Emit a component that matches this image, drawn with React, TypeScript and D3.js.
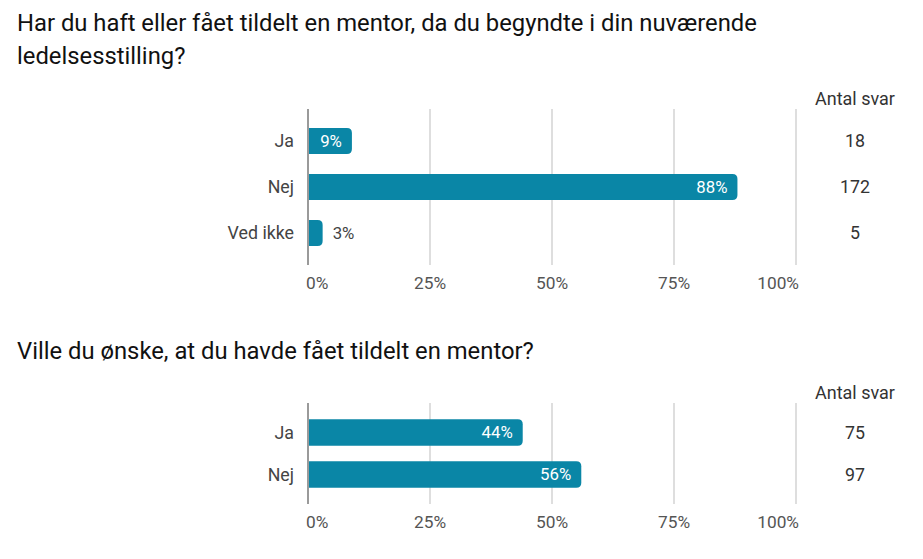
import { useEffect, useRef } from "react";
import * as d3 from "d3";

// Question 1
const q1Title = [
  "Har du haft eller fået tildelt en mentor, da du begyndte i din nuværende",
  "ledelsesstilling?",
];
const q1Categories = ["Ja", "Nej", "Ved ikke"];
const q1Percent = [9, 88, 3];
const q1Counts = [18, 172, 5];

// Question 2
const q2Title = ["Ville du ønske, at du havde fået tildelt en mentor?"];
const q2Categories = ["Ja", "Nej"];
const q2Percent = [44, 56];
const q2Counts = [75, 97];

const ticks = [0, 25, 50, 75, 100];
const countHeader = "Antal svar";

const BAR = "#0a86a6";
const FONT = "Roboto, 'Noto Sans', sans-serif";

interface Block {
  title: string[];
  titleY: number;
  categories: string[];
  percent: number[];
  counts: number[];
  top: number;
  bottom: number;
  padInner: number;
  padOuter: number;
}

function barPath(x0: number, x1: number, y: number, h: number, r: number) {
  const rr = Math.min(r, (x1 - x0) / 2, h / 2);
  return `M${x0},${y}H${x1 - rr}Q${x1},${y} ${x1},${y + rr}V${y + h - rr}Q${x1},${y + h} ${x1 - rr},${y + h}H${x0}Z`;
}

export default function App() {
  const svgRef = useRef<SVGSVGElement>(null);

  useEffect(() => {
    if (!svgRef.current) return;
    const svg = d3.select(svgRef.current);
    svg.selectAll("*").remove();

    const x = d3.scaleLinear().domain([0, 100]).range([308, 796]);
    const countX = 855;

    const blocks: Block[] = [
      {
        title: q1Title, titleY: 31, categories: q1Categories, percent: q1Percent, counts: q1Counts,
        top: 109, bottom: 265, padInner: 0.435, padOuter: 0.413,
      },
      {
        title: q2Title, titleY: 359, categories: q2Categories, percent: q2Percent, counts: q2Counts,
        top: 403, bottom: 504, padInner: 0.37, padOuter: 0.388,
      },
    ];

    blocks.forEach((b) => {
      const g = svg.append("g");

      // title
      b.title.forEach((line, i) => {
        g.append("text")
          .attr("x", 17)
          .attr("y", b.titleY + i * 33)
          .attr("font-size", 23.8)
          .attr("fill", "#111")
          .text(line);
      });

      // count header
      g.append("text")
        .attr("x", countX)
        .attr("y", b.top - 4)
        .attr("text-anchor", "middle")
        .attr("font-size", 18)
        .attr("fill", "#333")
        .text(countHeader);

      const y = d3
        .scaleBand<string>()
        .domain(b.categories)
        .range([b.top, b.bottom])
        .paddingOuter(b.padOuter)
        .paddingInner(b.padInner);
      const bh = y.bandwidth();

      // gridlines
      ticks.forEach((t) => {
        g.append("line")
          .attr("x1", x(t))
          .attr("x2", x(t))
          .attr("y1", b.top)
          .attr("y2", b.bottom)
          .attr("stroke", t === 0 ? "#9a9a9a" : "#c8c8c8")
          .attr("stroke-width", t === 0 ? 2 : 1.2);
      });

      // tick labels
      ticks.forEach((t, i) => {
        const last = i === ticks.length - 1;
        g.append("text")
          .attr("x", i === 0 ? x(t) - 2 : last ? x(t) + 3 : x(t))
          .attr("y", b.bottom + 24)
          .attr("text-anchor", i === 0 ? "start" : last ? "end" : "middle")
          .attr("font-size", 17.3)
          .attr("fill", "#555")
          .text(`${t}%`);
      });

      b.categories.forEach((c, i) => {
        const yy = y(c)!;
        const cy = yy + bh / 2;
        const x1 = x(b.percent[i]);

        g.append("path")
          .attr("d", barPath(x(0) + 1, x1, yy, bh, 5))
          .attr("fill", BAR);

        // category label
        g.append("text")
          .attr("x", 294)
          .attr("y", cy)
          .attr("dy", "0.35em")
          .attr("text-anchor", "end")
          .attr("font-size", 17.8)
          .attr("fill", "#444")
          .text(c);

        const label = `${b.percent[i]}%`;
        const inside = x1 - x(0) > 40;
        g.append("text")
          .attr("x", inside ? x1 - 10 : x1 + 10)
          .attr("y", cy)
          .attr("dy", "0.35em")
          .attr("text-anchor", inside ? "end" : "start")
          .attr("font-size", 16.8)
          .attr("fill", inside ? "#fff" : "#444")
          .text(label);

        // count
        g.append("text")
          .attr("x", countX)
          .attr("y", cy)
          .attr("dy", "0.35em")
          .attr("text-anchor", "middle")
          .attr("font-size", 17.8)
          .attr("fill", "#333")
          .text(b.counts[i]);
      });
    });
  }, []);

  return (
    <svg
      ref={svgRef}
      width={923}
      height={559}
      style={{ position: "absolute", left: 0, top: 0, background: "#fff", fontFamily: FONT }}
    />
  );
}
